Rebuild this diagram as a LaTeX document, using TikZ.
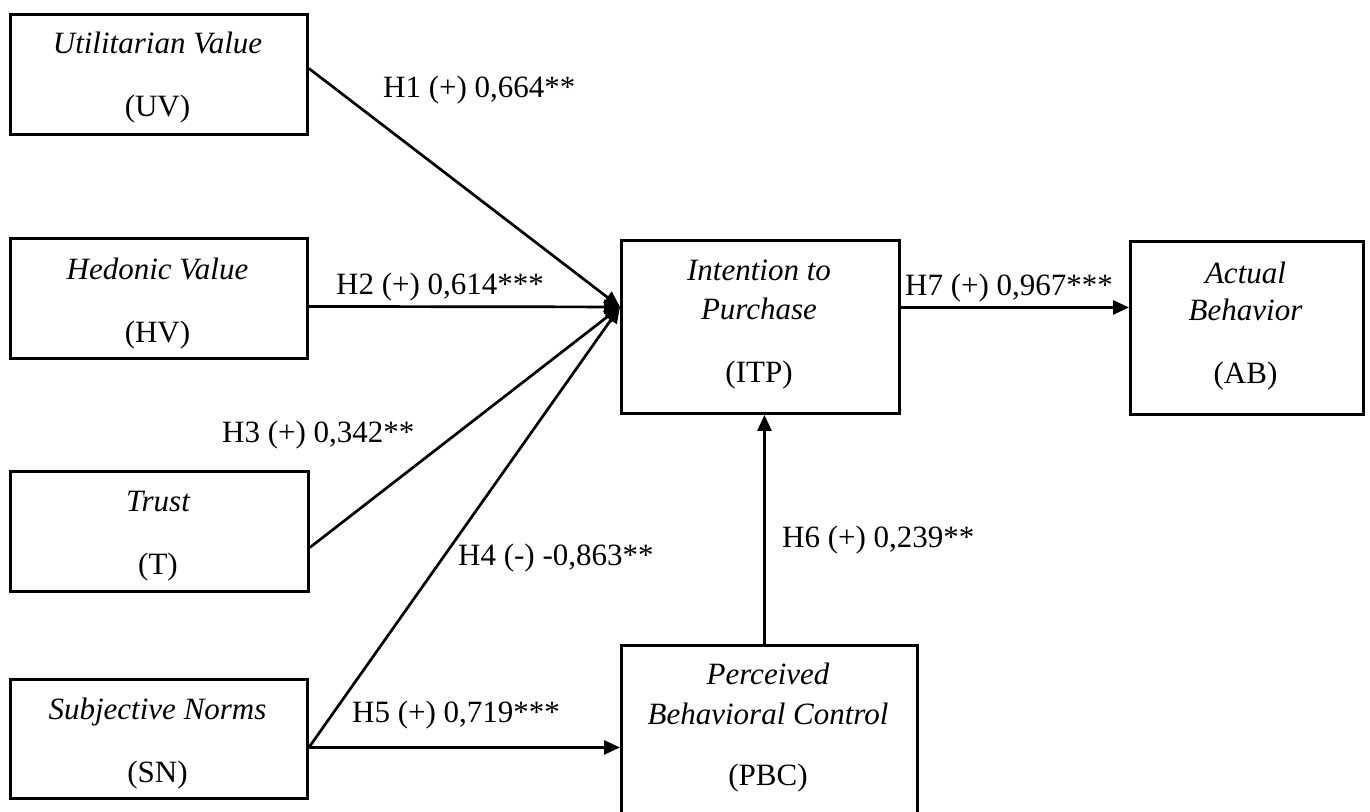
\documentclass[tikz,border=0pt]{standalone}
\usepackage{fontspec}
\setmainfont{Liberation Serif}
\usetikzlibrary{arrows.meta}

\begin{document}
\begin{tikzpicture}[x=1pt,y=-1pt,
  box/.style={draw, line width=2.9pt, rectangle, inner sep=0pt, anchor=north west},
  txt/.style={anchor=base, inner sep=0pt, font=\fontsize{31}{37}\selectfont},
  itx/.style={anchor=base, inner sep=0pt, font=\fontsize{31}{37}\selectfont\itshape},
  hyp/.style={anchor=base west, inner sep=0pt, font=\fontsize{31}{37}\selectfont},
  link/.style={line width=2.7pt, -{Triangle[length=16pt,width=14pt]}}]

\useasboundingbox (0,0) rectangle (1370,811);
\clip (0,0) rectangle (1370,811);

% construct boxes
\node[box, minimum width=297pt, minimum height=120pt] (uv)  at (9,13)  {};
\node[box, minimum width=297pt, minimum height=120pt] (hv)  at (9,237) {};
\node[box, minimum width=298pt, minimum height=120pt] (t)   at (9,470) {};
\node[box, minimum width=297pt, minimum height=119pt] (sn)  at (9,678) {};
\node[box, minimum width=278pt, minimum height=173pt] (itp) at (620,239) {};
\node[box, minimum width=233pt, minimum height=173pt] (ab)  at (1129,240) {};
\node[box, minimum width=296pt, minimum height=190pt] (pbc) at (620,644) {};

% box captions
\node[itx] (uv-name) at (157.5,53)  {Utilitarian Value};
\node[txt] (uv-abbr) at (157.5,116) {(UV)};
\node[itx] (hv-name) at (157.5,279) {Hedonic Value};
\node[txt] (hv-abbr) at (157.5,342) {(HV)};
\node[itx] (t-name)  at (158,511)   {Trust};
\node[txt] (t-abbr)  at (158,574)   {(T)};
\node[itx] (sn-name) at (157.5,719) {Subjective Norms};
\node[txt] (sn-abbr) at (157.5,782) {(SN)};
\node[itx] (itp-n1)  at (759,280)   {Intention to};
\node[itx] (itp-n2)  at (759,319)   {Purchase};
\node[txt] (itp-abbr) at (759,382)  {(ITP)};
\node[itx] (ab-n1)   at (1245.5,283) {Actual};
\node[itx] (ab-n2)   at (1245.5,320) {Behavior};
\node[txt] (ab-abbr) at (1245.5,383) {(AB)};
\node[itx] (pbc-n1)  at (768,684)   {Perceived};
\node[itx] (pbc-n2)  at (768,724)   {Behavioral Control};
\node[txt] (pbc-abbr) at (768,785)  {(PBC)};

% connector end points
\coordinate (itp-in)  at ([yshift=20pt]itp.west);
\coordinate (sn-out)  at ([yshift=-8.5pt]sn.east);
\coordinate (itp-out) at ([yshift=19.5pt]itp.east);
\coordinate (pbc-up)  at ([xshift=-5pt]pbc.north);

% paths
\draw[link] ([yshift=6pt]uv.east)   -- (itp-in);
\draw[link] ([yshift=-8pt]hv.east)  -- (itp-in);
\draw[link] ([yshift=-16pt]t.east)  -- (itp-in);
\draw[link] (sn-out) -- (itp-in);
\draw[link] (sn-out) -- (sn-out -| pbc.west);
\draw[link] (pbc-up) -- (pbc-up |- itp.south);
\draw[link] (itp-out) -- (itp-out -| ab.west);

% path coefficients
\node[hyp] (h1) at (383,97)  {H1 (+) 0,664**};
\node[hyp] (h2) at (336,294) {H2 (+) 0,614***};
\node[hyp] (h3) at (222,442) {H3 (+) 0,342**};
\node[hyp] (h4) at (458,565) {H4 (-) -0,863**};
\node[hyp] (h5) at (352,722) {H5 (+) 0,719***};
\node[hyp] (h6) at (782,547) {H6 (+) 0,239**};
\node[hyp] (h7) at (905,295) {H7 (+) 0,967***};
\end{tikzpicture}
\end{document}
